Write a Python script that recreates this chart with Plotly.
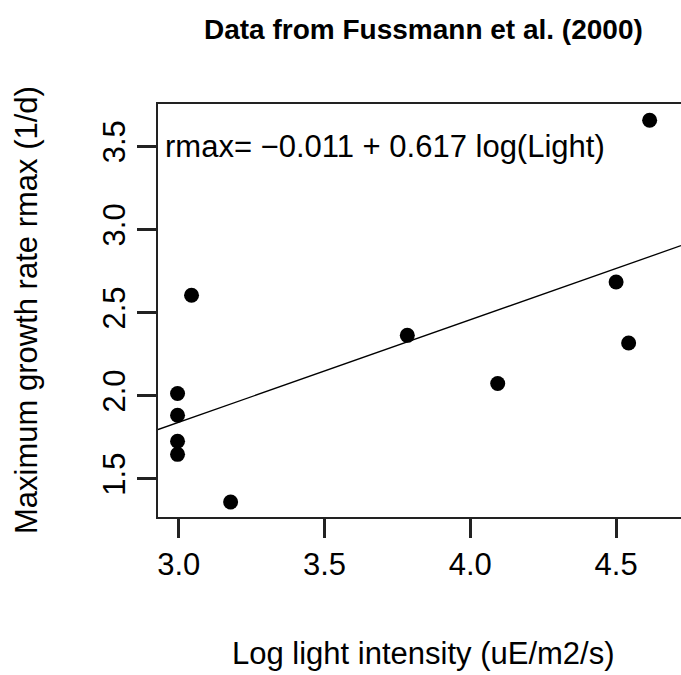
import plotly.graph_objects as go

# ---- data ----
log_light = [2.996, 2.996, 2.996, 2.996, 3.044, 3.178, 3.784, 4.094, 4.500, 4.543, 4.615]
rmax = [2.013, 1.882, 1.726, 1.647, 2.604, 1.360, 2.363, 2.073, 2.684, 2.317, 3.657]
intercept = -0.011
slope = 0.617
x_ticks = [3.0, 3.5, 4.0, 4.5]
y_ticks = [1.5, 2.0, 2.5, 3.0, 3.5]
title_text = "<b>Data from Fussmann et al. (2000)</b>"
x_title = "Log light intensity (uE/m2/s)"
y_title = "Maximum growth rate rmax (1/d)"
eq_text = "rmax= \u22120.011 + 0.617 log(Light)"

# ---- layout constants ----
W, H = 681, 675
ML, MR, MT, MB = 158, 0, 104, 158
PW, PH = W - ML - MR, H - MT - MB
TICKLEN = 19
x_range = [2.929, 2.929 + PW / 291.6]
y_range = [1.270, 1.270 + PH / 166.2]
FONT = "Liberation Sans, Arial, Helvetica, sans-serif"

fig = go.Figure()
fig.add_trace(go.Scatter(
    x=log_light, y=rmax, mode="markers",
    marker=dict(size=15, color="black"),
    showlegend=False, cliponaxis=False, hoverinfo="skip"))

# abline over full x range
fig.add_trace(go.Scatter(
    x=[x_range[0], x_range[1]],
    y=[intercept + slope * x_range[0], intercept + slope * x_range[1]],
    mode="lines", line=dict(color="black", width=1.3),
    showlegend=False, hoverinfo="skip"))

axis_common = dict(ticks="outside", ticklen=TICKLEN, tickwidth=2.5, tickcolor="#222",
                   showline=True, linewidth=1.8, linecolor="#222",
                   showgrid=False, zeroline=False, tickfont=dict(size=31))

fig.update_layout(
    width=W, height=H,
    margin=dict(l=ML, r=MR, t=MT, b=MB, pad=0),
    plot_bgcolor="white", paper_bgcolor="white",
    font=dict(family=FONT, size=31, color="black"),
    xaxis=dict(range=x_range, tickvals=x_ticks, ticktext=[f"{v:.1f}" for v in x_ticks],
               mirror=True, **axis_common),
    yaxis=dict(range=y_range, tickvals=y_ticks, ticktext=[f"{v:.1f}" for v in y_ticks],
               mirror=False, tickangle=-90, **axis_common),
)

fig.add_annotation(text=title_text, xref="paper", yref="paper",
                   x=(423 - ML) / PW, y=(H - 29 - MB) / PH,
                   xanchor="center", yanchor="middle", showarrow=False,
                   font=dict(size=28, family=FONT))
fig.add_annotation(text=x_title, xref="paper", yref="paper",
                   x=(423 - ML) / PW, y=(H - 653 - MB) / PH,
                   xanchor="center", yanchor="middle", showarrow=False,
                   font=dict(size=31, family=FONT))
fig.add_annotation(text=y_title, xref="paper", yref="paper",
                   x=(26 - ML) / PW, y=(H - 310 - MB) / PH,
                   xanchor="center", yanchor="middle", showarrow=False, textangle=-90,
                   font=dict(size=31, family=FONT))
fig.add_annotation(text=eq_text, xref="paper", yref="y",
                   x=(163 - ML) / PW, y=3.5,
                   xanchor="left", yanchor="middle", showarrow=False,
                   font=dict(size=31, family=FONT))

fig.write_html("out.html", config={"displayModeBar": False},
               post_script="document.body.style.margin='0';document.body.style.overflow='hidden';")
